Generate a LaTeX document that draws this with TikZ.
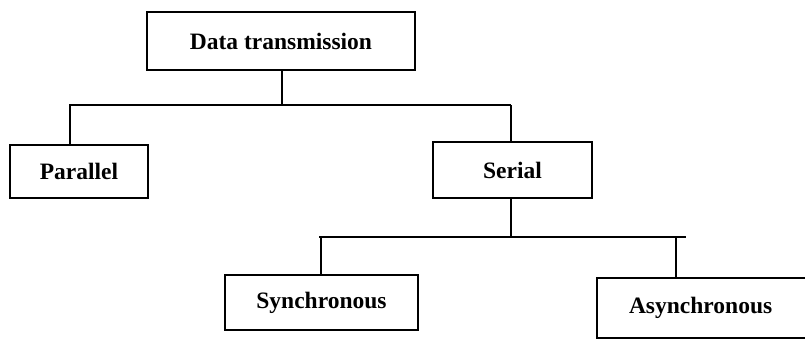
\documentclass[tikz,border=0pt]{standalone}
\usepackage{fontspec}
\setmainfont{Liberation Serif}
\usepackage{tikz}
\usetikzlibrary{positioning, calc}

\tikzset{
    boxnode/.style={draw, line width=1.3pt, inner sep=0pt, font=\fontsize{23.5}{28}\selectfont\bfseries},
    link/.style={line width=1.3pt}
}

\begin{document}
\begin{tikzpicture}[x=1pt, y=-1pt]
    % Page frame
    \clip (0,0) rectangle (805,341);

    % Boxes
    \node[boxnode, minimum width=268pt, minimum height=58pt] (dt) at (281,41) {Data transmission};
    \node[boxnode, minimum width=138pt, minimum height=53pt] (par) at (79,171.5) {Parallel};
    \node[boxnode, minimum width=159pt, minimum height=56pt] (ser) at (512.5,170) {Serial};
    \node[boxnode, minimum width=193pt, minimum height=55pt] (syn) at (321.5,302.5) {Synchronous};
    \node[boxnode, minimum width=216pt, minimum height=60pt, text width=196pt, align=left] (asy) at (705,308) {\hspace*{22pt}Asynchronous};

    % Junctions
    \coordinate (j1) at (282,105);
    \coordinate (j1l) at (69,105);
    \coordinate (j1r) at (511,105);
    \coordinate (j2) at (511,237);
    \coordinate (j2l) at (319,237);
    \coordinate (j2r) at (686,237);

    % Drop points
    \coordinate (dpar) at (70,105);
    \coordinate (dsyn) at (321,237);
    \coordinate (dasy) at (676,237);

    % Top level
    \draw[link] (dt.south -| j1) -- (j1);
    \draw[link] (j1l) -- (j1r);
    \draw[link] (dpar) -- (dpar |- par.north);
    \draw[link] (j1r) -- (j1r |- ser.north);

    % Serial level
    \draw[link] (j2 |- ser.south) -- (j2);
    \draw[link] (j2l) -- (j2r);
    \draw[link] (dsyn) -- (dsyn |- syn.north);
    \draw[link] (dasy) -- (dasy |- asy.north);
\end{tikzpicture}
\end{document}
